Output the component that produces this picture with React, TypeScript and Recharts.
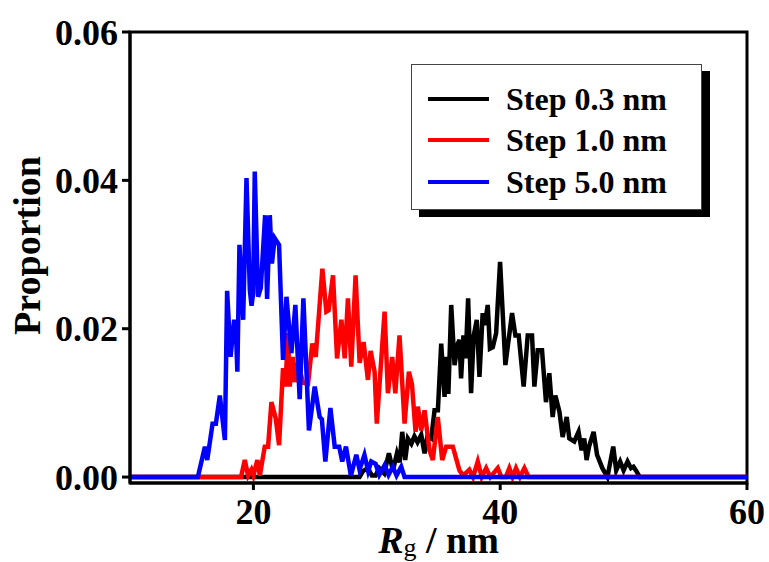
import {
  LineChart,
  Line,
  XAxis,
  YAxis,
  ReferenceArea,
} from "recharts";

// Rg (nm) / proportion pairs, one list per series
const BLACK_X = [10, 28.6, 28.88, 29.28, 29.6, 29.9, 30.2, 30.6, 30.98, 31.31, 31.63, 31.85, 32.06, 32.3, 32.52, 32.8, 33.05, 33.3, 33.6, 33.87, 34.1, 34.41, 34.68, 34.95, 35.22, 35.49, 35.62, 35.8, 36.03, 36.3, 36.57, 36.7, 36.83, 37.02, 37.2, 37.4, 37.64, 37.85, 38.1, 38.32, 38.58, 38.75, 38.99, 39.17, 39.4, 39.67, 39.99, 40.42, 40.96, 41.23, 41.5, 41.9, 42.23, 42.58, 42.77, 43.04, 43.39, 43.71, 43.98, 44.25, 44.47, 44.8, 45.06, 45.39, 45.6, 46.0, 46.35, 46.6, 46.81, 47.0, 47.2, 47.57, 47.85, 48.28, 48.69, 49.16, 49.4, 49.72, 50.0, 50.32, 50.6, 50.8, 51.0, 51.31, 60];
const BLACK_Y = [0, 0, 0.0008, 0.0012, 0.0002, 0.0002, 0.0012, 0.0005, 0.0032, 0.0009, 0.0032, 0.002, 0.0061, 0.0023, 0.0052, 0.0045, 0.0055, 0.0047, 0.0057, 0.0032, 0.0055, 0.0052, 0.009, 0.009, 0.018, 0.0108, 0.0162, 0.0112, 0.0232, 0.0151, 0.018, 0.0185, 0.0133, 0.0191, 0.016, 0.0241, 0.0113, 0.019, 0.0212, 0.0135, 0.0221, 0.0205, 0.0232, 0.0173, 0.0175, 0.0194, 0.029, 0.0151, 0.0221, 0.0191, 0.0191, 0.0122, 0.0191, 0.0191, 0.0122, 0.0171, 0.0171, 0.0101, 0.014, 0.0081, 0.011, 0.0088, 0.0054, 0.0081, 0.0052, 0.0048, 0.0061, 0.0036, 0.0052, 0.0023, 0.0041, 0.0061, 0.003, 0.0012, 0, 0.0041, 0.0009, 0.0021, 0.0009, 0.0021, 0.0012, 0.0014, 0.0009, 0, 0];

const RED_X = [10, 19.0, 19.3, 19.57, 19.84, 20.0, 20.32, 20.52, 20.92, 21.19, 21.46, 21.81, 22.08, 22.4, 22.6, 22.8, 22.94, 23.21, 23.35, 23.62, 24.02, 24.43, 24.77, 25.05, 25.59, 25.91, 26.1, 26.45, 26.78, 27.13, 27.4, 27.66, 27.93, 28.28, 28.61, 28.93, 29.28, 29.5, 29.82, 30.0, 30.63, 30.9, 31.25, 31.5, 31.84, 32.25, 32.6, 32.85, 33.14, 33.33, 33.6, 33.87, 34.27, 34.54, 34.94, 35.3, 35.62, 36.16, 36.7, 37.0, 37.5, 37.8, 38.18, 38.5, 38.86, 39.2, 39.8, 40.1, 40.45, 40.74, 41.0, 41.28, 41.6, 41.96, 42.3, 60];
const RED_Y = [0, 0, 0.0023, 0.0002, 0.001, 0.0002, 0.0023, 0.0002, 0.0041, 0.0041, 0.0101, 0.0079, 0.0043, 0.0147, 0.0122, 0.0194, 0.0122, 0.0162, 0.0128, 0.0154, 0.0127, 0.0126, 0.018, 0.0162, 0.0281, 0.0223, 0.0225, 0.0272, 0.016, 0.0212, 0.016, 0.0241, 0.0149, 0.0272, 0.0154, 0.0182, 0.0131, 0.017, 0.0142, 0.0072, 0.0223, 0.0113, 0.0162, 0.0113, 0.0191, 0.0072, 0.0142, 0.0125, 0.0061, 0.0095, 0.0063, 0.009, 0.0036, 0.0023, 0.0081, 0.0023, 0.0041, 0.0041, 0.0009, 0.0002, 0.001, 0, 0.0021, 0, 0.0012, 0, 0.0012, 0, 0, 0.0012, 0, 0.0012, 0, 0.0012, 0, 0];

const BLUE_X = [10, 15.5, 16.07, 16.26, 16.69, 16.96, 17.28, 17.69, 17.87, 18.15, 18.44, 18.6, 18.7, 18.87, 19.17, 19.44, 19.71, 19.85, 19.98, 20.11, 20.38, 20.6, 20.95, 21.11, 21.33, 21.5, 21.73, 22.08, 22.4, 22.68, 23.08, 23.4, 23.75, 24.05, 24.5, 24.97, 25.37, 25.55, 25.83, 26.24, 26.59, 26.95, 27.2, 27.5, 27.9, 28.34, 28.6, 29.0, 29.3, 29.55, 29.9, 30.2, 30.63, 30.95, 31.3, 31.6, 31.98, 32.25, 60];
const BLUE_Y = [0, 0, 0.0041, 0.0023, 0.0072, 0.0072, 0.011, 0.005, 0.0251, 0.0162, 0.0212, 0.019, 0.0142, 0.0313, 0.0212, 0.0403, 0.0252, 0.0231, 0.0248, 0.0412, 0.0243, 0.0255, 0.0353, 0.024, 0.0353, 0.0288, 0.0322, 0.0313, 0.0158, 0.0243, 0.0167, 0.0232, 0.0105, 0.0241, 0.0063, 0.0122, 0.0081, 0.0078, 0.0021, 0.0093, 0.0041, 0.0041, 0.0021, 0.0041, 0.0002, 0.003, 0.001, 0.003, 0.0008, 0.0021, 0.0018, 0.0003, 0.0016, 0.0003, 0.0014, 0.0002, 0.0014, 0, 0];

const X_TICKS = [20, 40, 60];
const Y_TICKS = [0, 0.02, 0.04, 0.06];

const SERIES = [
  { name: "Step 0.3 nm", color: "#000000", xs: BLACK_X, ys: BLACK_Y },
  { name: "Step 1.0 nm", color: "#ff0000", xs: RED_X, ys: RED_Y },
  { name: "Step 5.0 nm", color: "#0000ff", xs: BLUE_X, ys: BLUE_Y },
];

const toPoints = (xs: number[], ys: number[]) => xs.map((x, i) => ({ x, y: ys[i] }));

const FONT = "'Liberation Serif', 'Times New Roman', serif";
const tickStyle = { fontSize: 36, fontWeight: "bold", fill: "#000", fontFamily: FONT };

function YTitle(props: any) {
  const vb = props.viewBox || {};
  const cy = (vb.y ?? 0) + (vb.height ?? 0) / 2 - 12;
  const cx = 27;
  return (
    <text
      x={cx}
      y={cy}
      transform={`rotate(-90, ${cx}, ${cy})`}
      textAnchor="middle"
      dominantBaseline="central"
      fontSize={38}
      fontWeight="bold"
      fontFamily={FONT}
      fill="#000"
    >
      Proportion
    </text>
  );
}

function XTitle(props: any) {
  const vb = props.viewBox || {};
  const cx = (vb.x ?? 0) + (vb.width ?? 0) / 2;
  return (
    <text x={cx} y={553} textAnchor="middle" fontSize={38} fontWeight="bold" fontFamily={FONT} fill="#000">
      <tspan fontStyle="italic">R</tspan>
      <tspan fontSize={26} fontWeight="normal" dy={3}>g</tspan>
      <tspan dy={-3}> / nm</tspan>
    </text>
  );
}

function LegendBox() {
  const rows = [34, 75, 117];
  return (
    <div
      style={{
        position: "absolute",
        left: 411,
        top: 64,
        width: 289,
        height: 144,
        border: "1.5px solid #444",
        background: "#fff",
        boxShadow: "8px 7px 0 #000",
        fontFamily: FONT,
      }}
    >
      {SERIES.map((s, i) => (
        <div key={s.name} style={{ position: "absolute", left: 0, top: rows[i] - 20, height: 40, width: "100%" }}>
          <div
            style={{ position: "absolute", left: 16, top: 18, width: 61, height: 4, background: s.color }}
          />
          <div
            style={{
              position: "absolute",
              left: 94,
              top: 0,
              lineHeight: "40px",
              fontSize: 32,
              fontWeight: "bold",
              whiteSpace: "nowrap",
              color: "#000",
            }}
          >
            {s.name}
          </div>
        </div>
      ))}
    </div>
  );
}

export default function App() {
  return (
    <div style={{ position: "absolute", left: 0, top: 0, width: 769, height: 562, background: "#fff", fontFamily: FONT }}>
      <LineChart width={769} height={562} margin={{ top: 32, right: 22, bottom: 0, left: 0 }}>
        <XAxis
          type="number"
          dataKey="x"
          domain={[10, 60]}
          ticks={X_TICKS}
          allowDataOverflow
          height={79}
          tick={tickStyle}
          tickSize={7}
          tickMargin={8}
          axisLine={{ stroke: "#000", strokeWidth: 3 }}
          tickLine={{ stroke: "#000", strokeWidth: 3 }}
          label={{ content: XTitle }}
        />
        <YAxis
          type="number"
          domain={[-0.0008, 0.06]}
          ticks={Y_TICKS}
          allowDataOverflow
          width={130}
          tick={tickStyle}
          tickFormatter={(v: number) => v.toFixed(2)}
          tickSize={8}
          tickMargin={4}
          axisLine={{ stroke: "#000", strokeWidth: 3 }}
          tickLine={{ stroke: "#000", strokeWidth: 3 }}
          label={{ content: YTitle }}
        />
        <ReferenceArea x1={10} x2={60} y1={-0.0008} y2={0.06} fill="none" stroke="#000" strokeWidth={3} />
        {SERIES.map((s) => (
          <Line
            key={s.name}
            data={toPoints(s.xs, s.ys)}
            dataKey="y"
            name={s.name}
            type="linear"
            stroke={s.color}
            strokeWidth={4.5}
            dot={false}
            activeDot={false}
            isAnimationActive={false}
          />
        ))}
      </LineChart>
      <LegendBox />
    </div>
  );
}
